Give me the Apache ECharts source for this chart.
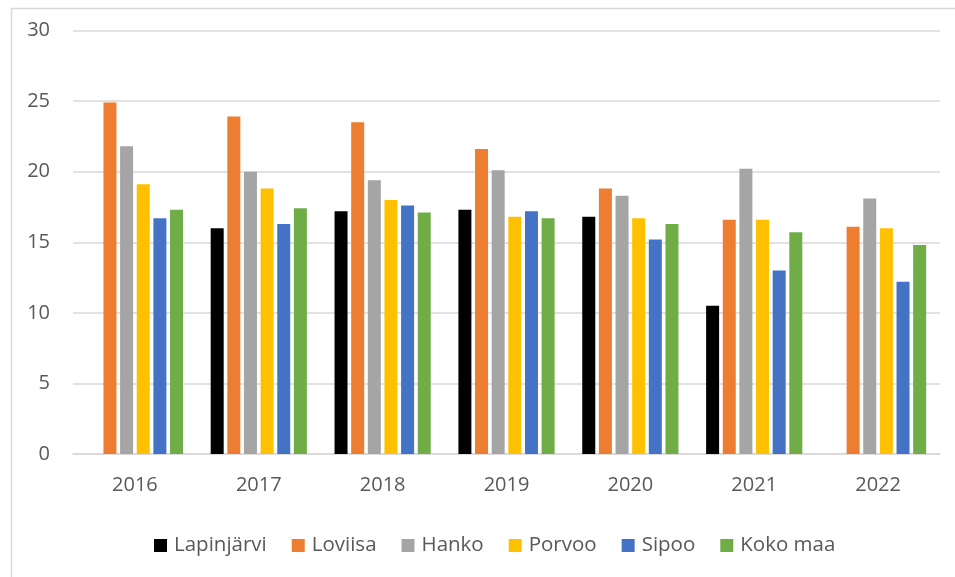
<!DOCTYPE html>
<html>
<head>
<meta charset="utf-8">
<script src="https://cdn.jsdelivr.net/npm/echarts@6/dist/echarts.min.js"></script>
<style>
html,body{margin:0;padding:0;background:#fff;}
#chart{width:955px;height:577px;}
</style>
</head>
<body>
<div id="chart"></div>
<script>
const categories = ['2016','2017','2018','2019','2020','2021','2022'];
const seriesNames = ['Lapinjärvi','Loviisa','Hanko','Porvoo','Sipoo','Koko maa'];
const lapinjarvi = [null, 16.0, 17.2, 17.3, 16.8, 10.5, null];
const loviisa    = [24.9, 23.9, 23.5, 21.6, 18.8, 16.6, 16.1];
const hanko      = [21.8, 20.0, 19.4, 20.1, 18.3, 20.2, 18.1];
const porvoo     = [19.1, 18.8, 18.0, 16.8, 16.7, 16.6, 16.0];
const sipoo      = [16.7, 16.3, 17.6, 17.2, 15.2, 13.0, 12.2];
const kokoMaa    = [17.3, 17.4, 17.1, 16.7, 16.3, 15.7, 14.8];
const yTicks = { min: 0, max: 30, interval: 5 };

const seriesData = [lapinjarvi, loviisa, hanko, porvoo, sipoo, kokoMaa];
const colors = ['#000000','#ED7D31','#A5A5A5','#FFC000','#4472C4','#70AD47'];
const font = '"Open Sans", "Liberation Sans", sans-serif';

const chart = echarts.init(document.getElementById('chart'), null, {renderer:'canvas'});
chart.setOption({
  animation: false,
  backgroundColor: '#ffffff',
  color: colors,
  graphic: [{
    type: 'rect', left: 9, top: 6,
    shape: { width: 1000, height: 620 },
    style: { fill: 'none', stroke: '#d9d9d9', lineWidth: 1.5 },
    silent: true, z: -1
  }],
  grid: { left: 73, right: 15, top: 30.5, bottom: 123, containLabel: false },
  legend: {
    data: seriesNames,
    top: 530,
    left: 149,
    icon: 'rect',
    itemWidth: 13, itemHeight: 13,
    itemGap: 25,
    textStyle: { fontFamily: font, fontSize: 20.5, color: '#595959', padding: [0, 0, 0, 2] }
  },
  xAxis: {
    type: 'category',
    data: categories,
    axisLine: { lineStyle: { color: '#d9d9d9', width: 1.5 } },
    axisTick: { show: false },
    axisLabel: { fontFamily: font, fontSize: 20, color: '#595959', margin: 21 }
  },
  yAxis: {
    type: 'value',
    min: yTicks.min, max: yTicks.max, interval: yTicks.interval,
    axisLine: { show: false },
    axisTick: { show: false },
    splitLine: { lineStyle: { color: '#d9d9d9', width: 1.5 } },
    axisLabel: { fontFamily: font, fontSize: 20, color: '#595959', margin: 23 }
  },
  series: seriesNames.map((n, i) => ({
    name: n,
    type: 'bar',
    data: seriesData[i],
    barWidth: 13,
    barGap: '28%',
    itemStyle: { color: colors[i] }
  }))
});
</script>
</body>
</html>
